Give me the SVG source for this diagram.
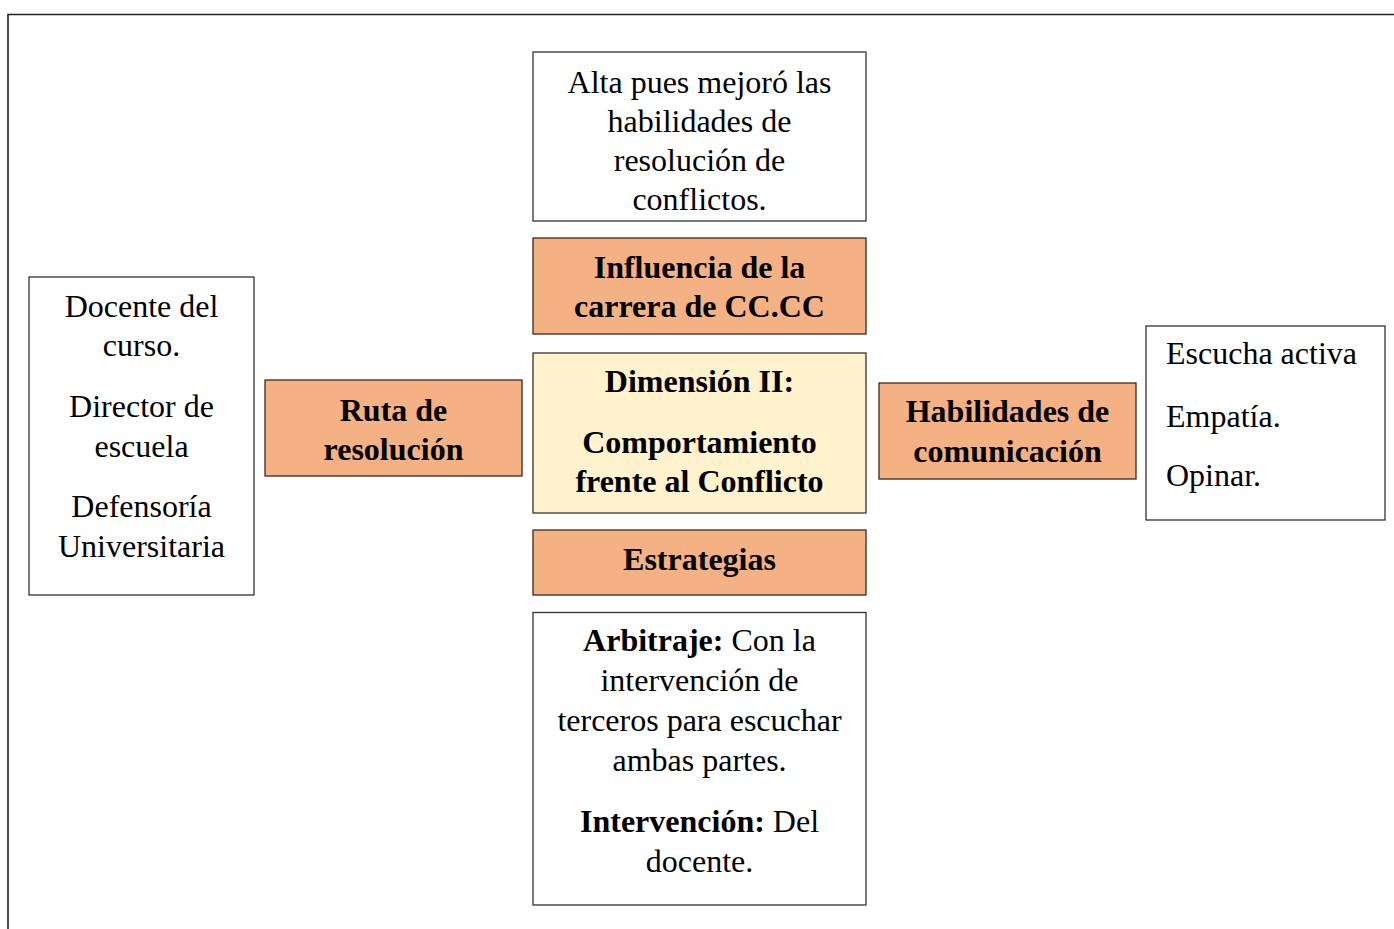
<svg xmlns="http://www.w3.org/2000/svg" width="1394" height="929" viewBox="0 0 1394 929">
<style>
.w{fill:#ffffff;stroke:#333333;stroke-width:1.3}
.o{fill:#F4B183;stroke:#3b2a20;stroke-width:1.3}
.y{fill:#FFF2CC;stroke:#333333;stroke-width:1.3}
text{font-family:"Liberation Serif","Times New Roman",serif;font-size:32px;fill:#000}
.c{text-anchor:middle}
.b{font-weight:bold}
</style>
<rect width="1394" height="929" fill="#ffffff"/>
<g id="frame"><polyline points="8,929 8,14.5 1394,14.5" fill="none" stroke="#222222" stroke-width="1.6"/></g>
<g id="connectors"></g>
<g id="top">
<rect class="w" x="533" y="52" width="333" height="169"/>
<text class="c" x="699.5" y="92.7">Alta pues mejoró las</text>
<text class="c" x="699.5" y="131.7">habilidades de</text>
<text class="c" x="699.5" y="170.7">resolución de</text>
<text class="c" x="699.5" y="210">conflictos.</text>
</g>
<g id="influencia">
<rect class="o" x="533" y="238" width="333" height="96"/>
<text class="c b" x="699.5" y="278.3">Influencia de la</text>
<text class="c b" x="699.5" y="317.3">carrera de CC.CC</text>
</g>
<g id="dimension">
<rect class="y" x="533" y="353" width="333" height="160"/>
<text class="c b" x="699.5" y="392.3">Dimensión II:</text>
<text class="c b" x="699.5" y="453.3">Comportamiento</text>
<text class="c b" x="699.5" y="492.3">frente al Conflicto</text>
</g>
<g id="estrategias">
<rect class="o" x="533" y="530" width="333" height="65"/>
<text class="c b" x="699.5" y="570">Estrategias</text>
</g>
<g id="arbitraje">
<rect class="w" x="533" y="612.5" width="333" height="292.5"/>
<text class="c" x="699.5" y="650.7"><tspan class="b">Arbitraje:</tspan> Con la</text>
<text class="c" x="699.5" y="690.7">intervención de</text>
<text class="c" x="699.5" y="731">terceros para escuchar</text>
<text class="c" x="699.5" y="770.7">ambas partes.</text>
<text class="c" x="699.5" y="832.3"><tspan class="b">Intervención:</tspan> Del</text>
<text class="c" x="699.5" y="871.7">docente.</text>
</g>
<g id="actores">
<rect class="w" x="29" y="277" width="225" height="318"/>
<text class="c" x="141.5" y="316.7">Docente del</text>
<text class="c" x="141.5" y="355.7">curso.</text>
<text class="c" x="141.5" y="416.7">Director de</text>
<text class="c" x="141.5" y="456.7">escuela</text>
<text class="c" x="141.5" y="517.3">Defensoría</text>
<text class="c" x="141.5" y="557.3">Universitaria</text>
</g>
<g id="ruta">
<rect class="o" x="265" y="380" width="257" height="96"/>
<text class="c b" x="393.5" y="421">Ruta de</text>
<text class="c b" x="393.5" y="460">resolución</text>
</g>
<g id="habilidades">
<rect class="o" x="879" y="383" width="257" height="96"/>
<text class="c b" x="1007.5" y="421.7">Habilidades de</text>
<text class="c b" x="1007.5" y="461.7">comunicación</text>
</g>
<g id="lista">
<rect class="w" x="1146" y="326" width="239" height="194"/>
<text x="1166" y="364">Escucha activa</text>
<text x="1166" y="426.7">Empatía.</text>
<text x="1166" y="486">Opinar.</text>
</g>
</svg>
